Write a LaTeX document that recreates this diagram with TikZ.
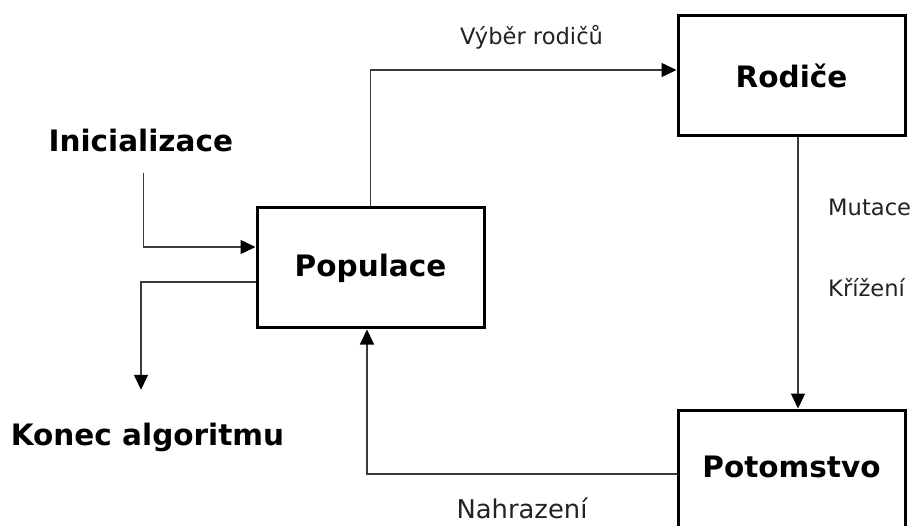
\documentclass[tikz,border=0pt]{standalone}
\usepackage{fontspec}
\setmainfont{DejaVu Sans}
\usetikzlibrary{arrows.meta,positioning}
\definecolor{linegray}{HTML}{3A3A3A}
\definecolor{textgray}{HTML}{222222}

\begin{document}
\begin{tikzpicture}[
      x=1pt, y=-1pt,
      box/.style={
        rectangle,
        draw,
        line width=3pt,
        minimum width=227pt,
        minimum height=120pt,
        font=\bfseries\fontsize{29.5}{35}\selectfont
      },
      title/.style={
        inner sep=0pt,
        font=\bfseries\fontsize{29.5}{35}\selectfont
      },
      edgetext/.style={
        inner sep=0pt,
        text=textgray,
        font=\fontsize{22.6}{27}\selectfont
      },
      flow/.style={
        draw=linegray,
        line width=1.5pt,
        -{Triangle[length=15pt,width=14pt,color=black]}
      }
    ]
    \clip (0,0) rectangle (923,526);

    \node[box]
      (Populace) at (370.5,268)
      {Populace};

    \node[box, above right=69pt and 191pt of Populace]
      (Rodice)
      {Rodiče};

    \node[box, below=271pt of Rodice,
      minimum height=0pt, inner ysep=46pt,
      text height=21pt, text depth=20pt]
      (Potomstvo)
      {Potomstvo};

    \node[title, anchor=base] (Init) at (140.8,152) {Inicializace};
    \node[title, anchor=base] (Konec) at (147.5,445) {Konec algoritmu};

    % edge texts
    \node[edgetext, anchor=base] (Vyber) at (531.5,45) {Výběr rodičů};
    \node[edgetext, anchor=base west] (Mutace) at (828,216) {Mutace};
    \node[edgetext, anchor=base west] (Krizeni) at (828,297) {Křížení};
    \node[edgetext, anchor=base, font=\fontsize{25.8}{30}\selectfont]
      (Nahrazeni) at (522,518) {Nahrazení};

    % connectors
    \draw[flow] ([xshift=2.5pt,yshift=-20pt]Init.south)
      |- ([yshift=21pt]Populace.west);
    \draw[flow] ([yshift=-14pt]Populace.west)
      -| ([xshift=-6.5pt,yshift=32.6pt]Konec.north);
    \draw[flow] (Populace.north) |- ([yshift=6pt]Rodice.west);
    \draw[flow] ([xshift=6.5pt]Rodice.south)
      -- ([xshift=6.5pt]Rodice.south |- Potomstvo.north);
    \draw[flow] ([yshift=2.5pt]Potomstvo.west)
      -| ([xshift=-3.5pt]Populace.south);
  \end{tikzpicture}
\end{document}
